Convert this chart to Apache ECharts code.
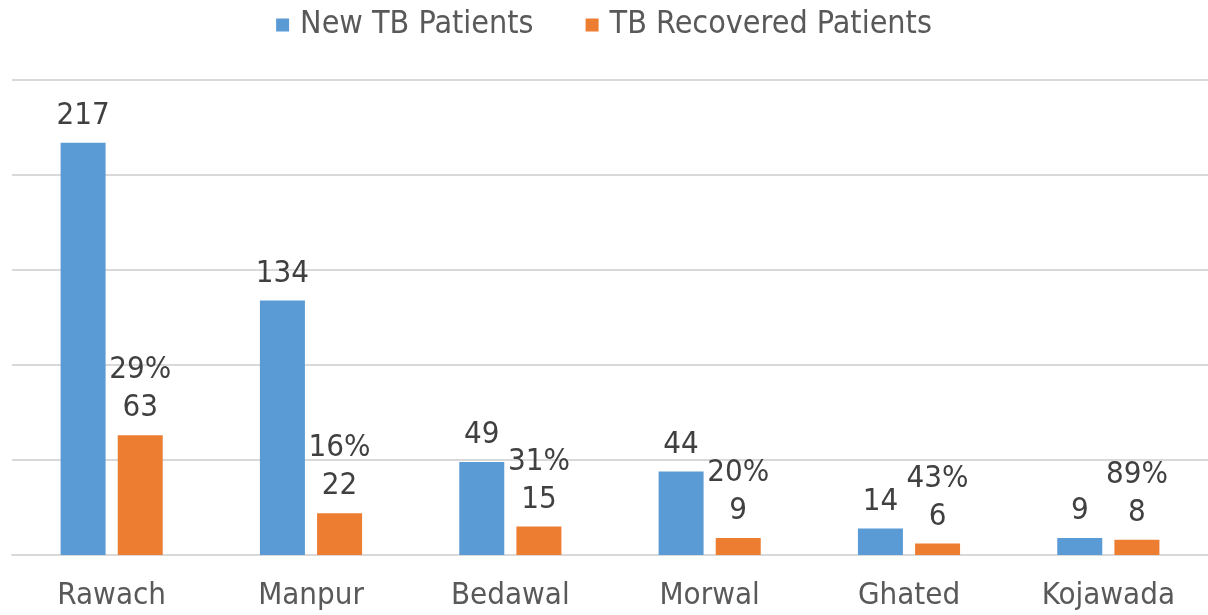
<!DOCTYPE html>
<html>
<head>
<meta charset="utf-8">
<script src="https://cdn.jsdelivr.net/npm/echarts@6/dist/echarts.min.js"></script>
<style>
  html, body { margin: 0; padding: 0; background: #fff; }
  #main { width: 1208px; height: 615px; }
</style>
</head>
<body>
<div id="main"></div>
<script>
var categories = ['Rawach', 'Manpur', 'Bedawal', 'Morwal', 'Ghated', 'Kojawada'];
var newPatients = [217, 134, 49, 44, 14, 9];
var recoveredPatients = [63, 22, 15, 9, 6, 8];
var recoveredPct = ['29%', '16%', '31%', '20%', '43%', '89%'];

var fontFamily = '"DejaVu Sans Condensed", "Liberation Sans Narrow", "DejaVu Sans", sans-serif';

var chart = echarts.init(document.getElementById('main'));
var option = {
    backgroundColor: '#ffffff',
    textStyle: { fontFamily: fontFamily },
    legend: {
        top: 4,
        left: 'center',
        itemWidth: 13,
        itemHeight: 13,
        itemGap: 52,
        icon: 'rect',
        textStyle: { fontSize: 32, color: '#595959', fontFamily: fontFamily, padding: [0, 0, 0, 6] },
        data: ['New TB Patients', 'TB Recovered Patients']
    },
    grid: { left: 12, right: 0, top: 80, bottom: 60 },
    xAxis: {
        type: 'category',
        data: categories,
        axisLine: { lineStyle: { color: '#d9d9d9', width: 2 } },
        axisTick: { show: false },
        axisLabel: { fontSize: 31, color: '#595959', margin: 25, fontFamily: fontFamily }
    },
    yAxis: {
        type: 'value',
        min: 0,
        max: 250,
        interval: 50,
        axisLabel: { show: false },
        axisLine: { show: false },
        axisTick: { show: false },
        splitLine: { lineStyle: { color: '#d9d9d9', width: 2 } }
    },
    series: [
        {
            name: 'New TB Patients',
            type: 'bar',
            data: newPatients,
            barWidth: 45,
            barGap: '27%',
            itemStyle: { color: '#5b9bd5' },
            label: {
                show: true,
                position: 'top',
                distance: 11,
                fontSize: 31,
                color: '#404040',
                fontFamily: fontFamily
            }
        },
        {
            name: 'TB Recovered Patients',
            type: 'bar',
            data: recoveredPatients,
            barWidth: 45,
            itemStyle: { color: '#ed7d31' },
            label: {
                show: true,
                position: 'top',
                distance: 8,
                fontSize: 31,
                lineHeight: 38,
                color: '#404040',
                fontFamily: fontFamily,
                formatter: function (p) {
                    return recoveredPct[p.dataIndex] + '\n' + p.value;
                }
            }
        }
    ]
};
chart.setOption(option);
</script>
</body>
</html>
